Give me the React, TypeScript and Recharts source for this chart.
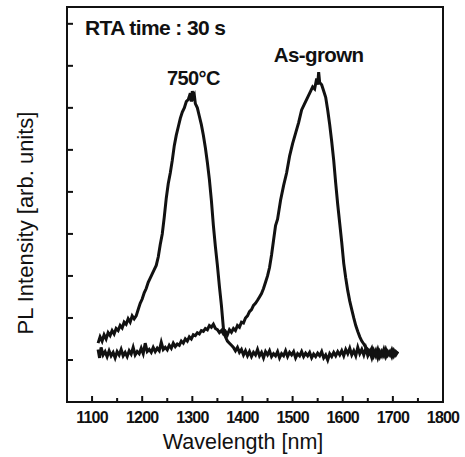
import React from "react";
import {
  LineChart,
  Line,
  XAxis,
  YAxis,
  ReferenceArea,
  ReferenceDot,
} from "recharts";

// wavelength [nm], intensity [arb. units]
const asGrownWl = [
  1112, 1115, 1118, 1122, 1126, 1130, 1134, 1138, 1142, 1146, 1150, 1154, 1158, 1162, 1166, 1170,
  1174, 1178, 1182, 1186, 1190, 1194, 1198, 1202, 1206, 1210, 1214, 1218, 1222, 1226, 1230, 1234,
  1238, 1242, 1246, 1250, 1254, 1258, 1262, 1266, 1270, 1274, 1278, 1282, 1286, 1290, 1294, 1298,
  1302, 1306, 1310, 1314, 1318, 1322, 1326, 1330, 1334, 1338, 1342, 1346, 1350, 1354, 1358, 1362,
  1366, 1370, 1374, 1378, 1382, 1386, 1390, 1394, 1398, 1402, 1406, 1410, 1414, 1418, 1422, 1426,
  1430, 1434, 1438, 1442, 1446, 1450, 1454, 1458, 1462, 1466, 1470, 1476, 1482, 1488, 1494, 1500,
  1506, 1512, 1518, 1524, 1530, 1536, 1540, 1544, 1548, 1550, 1552, 1554, 1558, 1562, 1566, 1570,
  1574, 1578, 1582, 1586, 1590, 1594, 1598, 1602, 1606, 1610, 1614, 1618, 1622, 1626, 1630, 1634,
  1638, 1642, 1646, 1650, 1654, 1658, 1662, 1666, 1670, 1674, 1678, 1682, 1686, 1690, 1694, 1698,
  1702, 1706, 1710,
];
const asGrownPL = [
  1.25, 1.05, 1.3, 1.12, 1.2, 1.08, 1.22, 1.1, 1.18, 1.05, 1.2, 1.12, 1.25, 1.1, 1.18, 1.08,
  1.22, 1.14, 1.3, 1.12, 1.2, 1.15, 1.28, 1.15, 1.4, 1.2, 1.25, 1.18, 1.3, 1.2, 1.28, 1.22,
  1.42, 1.25, 1.3, 1.24, 1.35, 1.28, 1.4, 1.32, 1.38, 1.35, 1.45, 1.4, 1.5, 1.45, 1.55, 1.5,
  1.6, 1.58, 1.65, 1.62, 1.7, 1.68, 1.75, 1.72, 1.82, 1.78, 1.85, 1.75, 1.72, 1.65, 1.7, 1.62,
  1.68, 1.6, 1.72, 1.66, 1.75, 1.7, 1.82, 1.78, 1.9, 1.88, 2.0, 2.05, 2.15, 2.2, 2.3, 2.35,
  2.42, 2.5, 2.58, 2.7, 2.85, 3.0, 3.2, 3.5, 3.85, 4.2, 4.35, 4.8, 5.15, 5.45, 5.85, 6.15,
  6.4, 6.65, 6.95, 7.1, 7.25, 7.4, 7.5, 7.45, 7.7, 7.55, 7.85, 7.6, 7.55, 7.4, 7.25, 6.95,
  6.6, 6.2, 5.75, 5.2, 4.7, 4.25, 3.8, 3.3, 2.95, 2.65, 2.4, 2.2, 2.0, 1.82, 1.68, 1.55,
  1.45, 1.38, 1.3, 1.25, 1.18, 1.28, 1.1, 1.22, 1.05, 1.2, 1.1, 1.25, 1.08, 1.2, 1.12, 1.24,
  1.1, 1.2, 1.15,
];

const annealedWl = [
  1112, 1116, 1120, 1124, 1128, 1132, 1136, 1140, 1144, 1148, 1152, 1156, 1160, 1164, 1168, 1172,
  1176, 1180, 1184, 1188, 1192, 1196, 1200, 1204, 1208, 1212, 1216, 1220, 1224, 1228, 1232, 1236,
  1240, 1244, 1248, 1252, 1256, 1260, 1264, 1268, 1272, 1276, 1280, 1284, 1288, 1292, 1296, 1298,
  1300, 1302, 1304, 1306, 1310, 1314, 1318, 1322, 1326, 1330, 1334, 1338, 1342, 1346, 1350, 1354,
  1358, 1362, 1366, 1370, 1374, 1378, 1382, 1386, 1390, 1394, 1398, 1402, 1406, 1410, 1414, 1418,
  1422, 1426, 1430, 1434, 1438, 1442, 1446, 1450, 1454, 1458, 1462, 1466, 1470, 1474, 1478, 1482,
  1486, 1490, 1494, 1498, 1502, 1506, 1510, 1514, 1518, 1522, 1526, 1530, 1534, 1538, 1542, 1546,
  1550, 1554, 1558, 1562, 1566, 1570, 1574, 1578, 1582, 1586, 1590, 1594, 1598, 1602, 1606, 1610,
  1614, 1618, 1622, 1626, 1630, 1634, 1638, 1642, 1646, 1650, 1654, 1658, 1662, 1666, 1670, 1674,
  1678, 1682, 1686, 1690, 1694, 1698, 1702, 1706, 1710,
];
const annealedPL = [
  1.4, 1.55, 1.45, 1.6, 1.5, 1.65, 1.58, 1.7, 1.62, 1.75, 1.7, 1.82, 1.76, 1.9, 1.85, 1.98,
  1.9, 2.05, 1.98, 2.05, 2.2, 2.35, 2.45, 2.6, 2.7, 2.85, 2.95, 3.05, 3.15, 3.25, 3.45, 3.75,
  4.0, 4.4, 4.85, 5.2, 5.45, 5.75, 6.1, 6.35, 6.55, 6.75, 6.9, 7.0, 7.15, 7.2, 7.35, 7.15,
  7.4, 7.25, 7.3, 7.1, 7.0, 6.8, 6.6, 6.35, 6.05, 5.7, 5.3, 4.8, 4.2, 3.7, 3.25, 2.75,
  2.3, 1.75, 1.55, 1.45, 1.4, 1.35, 1.3, 1.22, 1.3, 1.18, 1.25, 1.12, 1.22, 1.1, 1.2, 1.08,
  1.18, 1.12, 1.25, 1.1, 1.18, 1.05, 1.2, 1.12, 1.22, 1.08, 1.15, 1.1, 1.2, 1.05, 1.15, 1.1,
  1.22, 1.08, 1.18, 1.12, 1.2, 1.05, 1.15, 1.1, 1.2, 1.08, 1.16, 1.1, 1.18, 1.05, 1.14, 1.08,
  1.16, 1.1, 1.2, 1.05, 1.12, 1.0, 1.15, 1.08, 1.18, 1.1, 1.2, 1.12, 1.22, 1.1, 1.25, 1.15,
  1.28, 1.12, 1.22, 1.1, 1.3, 1.15, 1.25, 1.12, 1.28, 1.1, 1.2, 1.05, 1.22, 1.1, 1.25, 1.08,
  1.2, 1.1, 1.25, 1.12, 1.2, 1.08, 1.22, 1.12, 1.2,
];

const xTicks = [1100, 1150, 1200, 1250, 1300, 1350, 1400, 1450, 1500, 1550, 1600, 1650, 1700, 1750, 1800];
const yTicks = [1, 2, 3, 4, 5, 6, 7, 8, 9];

const asGrown = asGrownWl.map((wl, i) => ({ wl, pl: asGrownPL[i] }));
const annealed = annealedWl.map((wl, i) => ({ wl, pl: annealedPL[i] }));

const INK = "#111";
const FONT = "'Liberation Sans', Arial, sans-serif";

const XTick = (props: any) => {
  const { x, y, payload } = props;
  const v = payload.value;
  const major = v % 100 === 0;
  return (
    <g>
      <line x1={x} x2={x} y1={y} y2={y - (major ? 6 : 4)} stroke={INK} strokeWidth={2} />
      {major && (
        <text
          x={x}
          y={y + 21}
          textAnchor="middle"
          fontSize={16}
          fontWeight="bold"
          letterSpacing={-0.8}
          fontFamily={FONT}
          fill={INK}
        >
          {v}
        </text>
      )}
    </g>
  );
};

const YTick = (props: any) => {
  const { x, y } = props;
  return <line x1={x} x2={x + 6} y1={y} y2={y} stroke={INK} strokeWidth={2} />;
};

const YLabel = () => {
  const cx = 25;
  const cy = 223;
  return (
    <text
      x={cx}
      y={cy}
      transform={`rotate(-90 ${cx} ${cy})`}
      textAnchor="middle"
      dominantBaseline="central"
      fontSize={22}
      fontFamily={FONT}
      fill={INK}
    >
      PL Intensity [arb. units]
    </text>
  );
};

const XLabel = () => (
  <text x={243} y={449} textAnchor="middle" fontSize={21.5} fontFamily={FONT} fill={INK}>
    Wavelength [nm]
  </text>
);

const note = (value: string, size: number, anchor: "start" | "middle" = "middle") => ({
  content: (p: any) => (
    <text
      x={p.viewBox.x}
      y={p.viewBox.y}
      textAnchor={anchor}
      fontSize={size}
      fontWeight="bold"
      letterSpacing={-0.6}
      fontFamily={FONT}
      fill={INK}
    >
      {value}
    </text>
  ),
});

const App: React.FC = () => {
  return (
    <div style={{ position: "absolute", left: 0, top: 0, background: "#fff" }}>
      <LineChart
        width={465}
        height={457}
        margin={{ top: 7, right: 22, left: 0, bottom: 0 }}
      >
        <XAxis
          type="number"
          dataKey="wl"
          domain={[1050, 1800]}
          ticks={xTicks}
          height={55}
          axisLine={false}
          tickLine={false}
          tickSize={0}
          tickMargin={0}
          tick={<XTick />}
          interval={0}
          allowDataOverflow
          label={<XLabel />}
        />
        <YAxis
          type="number"
          domain={[0, 9.4]}
          ticks={yTicks}
          width={67}
          axisLine={false}
          tickLine={false}
          tickSize={0}
          tickMargin={0}
          tick={<YTick />}
          interval={0}
          allowDataOverflow
          label={<YLabel />}
        />
        <ReferenceArea
          x1={1050}
          x2={1800}
          y1={0}
          y2={9.4}
          fill="none"
          stroke={INK}
          strokeWidth={2}
          ifOverflow="visible"
        />
        <Line
          data={annealed}
          dataKey="pl"
          type="linear"
          stroke={INK}
          strokeWidth={3}
          dot={false}
          isAnimationActive={false}
        />
        <Line
          data={asGrown}
          dataKey="pl"
          type="linear"
          stroke={INK}
          strokeWidth={3}
          dot={false}
          isAnimationActive={false}
        />
        <ReferenceDot x={1086} y={8.74} r={0} label={note("RTA time : 30 s", 21, "start")} />
        <ReferenceDot x={1302} y={7.55} r={0} label={note("750°C", 20)} />
        <ReferenceDot x={1552} y={8.1} r={0} label={note("As-grown", 20.5)} />
      </LineChart>
    </div>
  );
};

export default App;
